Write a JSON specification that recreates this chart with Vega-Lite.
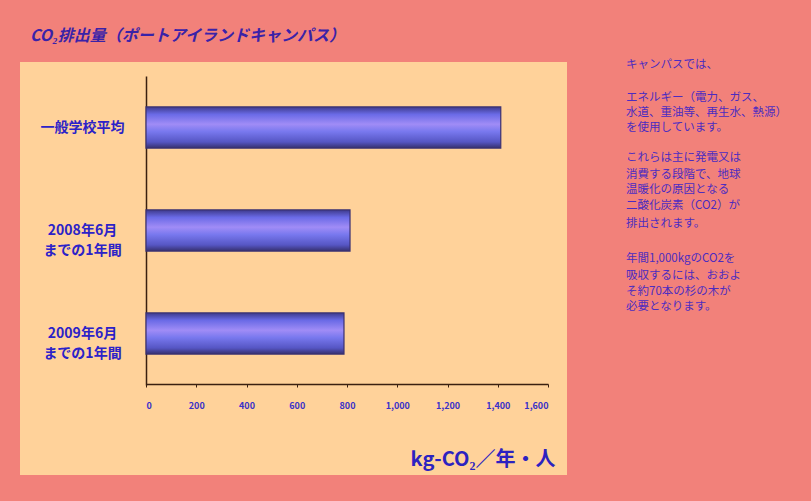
{
  "$schema": "https://vega.github.io/schema/vega-lite/v6.json",
  "autosize": "none",
  "width": 547,
  "height": 413,
  "padding": {"left": 20, "top": 62, "right": 244, "bottom": 26},
  "background": "#F2817A",
  "title": {
    "text": "CO₂排出量（ポートアイランドキャンパス）",
    "anchor": "start",
    "frame": "group",
    "dx": 10,
    "offset": 15,
    "font": "Noto Sans CJK JP",
    "fontSize": 16,
    "fontWeight": "bold",
    "fontStyle": "italic",
    "color": "#3A22A8"
  },
  "config": {"font": "Noto Sans CJK JP"},
  "view": {"fill": "#FFD29A", "stroke": null},
  "resolve": {"scale": {"x": "independent", "y": "independent"}},
  "layer": [
    {
      "data": {
        "values": [
          {"label": "一般学校平均", "value": 1412},
          {"label": "2008年6月\nまでの1年間", "value": 812},
          {"label": "2009年6月\nまでの1年間", "value": 788}
        ]
      },
      "mark": {
        "type": "bar",
        "stroke": "#3A3072",
        "strokeWidth": 1.2,
        "color": {
          "gradient": "linear",
          "x1": 0, "y1": 0, "x2": 0, "y2": 1,
          "stops": [
            {"offset": 0, "color": "#3E3A8C"},
            {"offset": 0.18, "color": "#6A6AE6"},
            {"offset": 0.42, "color": "#A08CF6"},
            {"offset": 0.6, "color": "#7878EE"},
            {"offset": 0.85, "color": "#5656C4"},
            {"offset": 1, "color": "#36306E"}
          ]
        }
      },
      "encoding": {
        "y": {
          "field": "label",
          "type": "nominal",
          "sort": null,
          "scale": {"range": [14, 323], "paddingInner": 0.6, "paddingOuter": 0.3},
          "axis": {
            "title": null,
            "offset": -126,
            "ticks": false,
            "domainColor": "#3A2010",
            "domainWidth": 1.5,
            "labelExpr": "split(datum.label, '\\n')",
            "labelAlign": "center",
            "labelPadding": 64,
            "labelFont": "Noto Sans CJK JP",
            "labelFontSize": 14,
            "labelFontWeight": "bold",
            "labelLineHeight": 20,
            "labelColor": "#2C22C8"
          }
        },
        "x": {
          "field": "value",
          "type": "quantitative",
          "scale": {"domain": [0, 1600], "range": [126, 528], "nice": false},
          "axis": {
            "title": "kg-CO₂／年・人",
            "offset": -91,
            "values": [0, 200, 400, 600, 800, 1000, 1200, 1400, 1600],
            "format": ",d",
            "grid": false,
            "domainColor": "#3A2010",
            "domainWidth": 1.5,
            "tickColor": "#3A2010",
            "tickSize": 3,
            "labelPadding": 14,
            "labelFontSize": 9,
            "labelFontWeight": "bold",
            "labelColor": "#3A30C8",
            "titleFont": "Noto Sans CJK JP",
            "titleFontSize": 20,
            "titleFontWeight": "bold",
            "titleColor": "#2C22C0",
            "titleAlign": "right",
            "titleAnchor": "end",
            "titleBaseline": "middle",
            "titleX": 535,
            "titleY": 75
          }
        }
      }
    },
    {
      "data": {
        "values": [
          {"line": 0, "col": 0, "text": "キャンパスでは、"},
          {"line": 2.05, "col": 0, "text": "エネルギー（電力、ガス、"},
          {"line": 3, "col": 0, "text": "水道、重油等、再生水、熱源）"},
          {"line": 3.95, "col": 0, "text": "を使用しています。"},
          {"line": 5.8, "col": 0, "text": "これらは主に発電又は"},
          {"line": 6.85, "col": 0, "text": "消費する段階で、地球"},
          {"line": 7.8, "col": 0, "text": "温暖化の原因となる"},
          {"line": 8.8, "col": 0, "text": "二酸化炭素（CO2）が"},
          {"line": 9.9, "col": 0, "text": "排出されます。"},
          {"line": 12.1, "col": 0, "text": "年間1,000kgのCO2を"},
          {"line": 13.15, "col": 0, "text": "吸収するには、おおよ"},
          {"line": 14.15, "col": 0, "text": "そ約70本の杉の木が"},
          {"line": 15.1, "col": 0, "text": "必要となります。"}
        ]
      },
      "mark": {
        "type": "text",
        "align": "left",
        "baseline": "middle",
        "font": "Noto Sans CJK JP",
        "fontSize": 11.5,
        "color": "#4C2CC0",
        "clip": false
      },
      "encoding": {
        "x": {"field": "col", "type": "quantitative", "scale": {"domain": [0, 1], "range": [606, 766]}, "axis": null},
        "y": {"field": "line", "type": "quantitative", "scale": {"domain": [-0.2, 25.6], "reverse": true, "nice": false, "zero": false}, "axis": null},
        "text": {"field": "text"}
      }
    }
  ]
}
